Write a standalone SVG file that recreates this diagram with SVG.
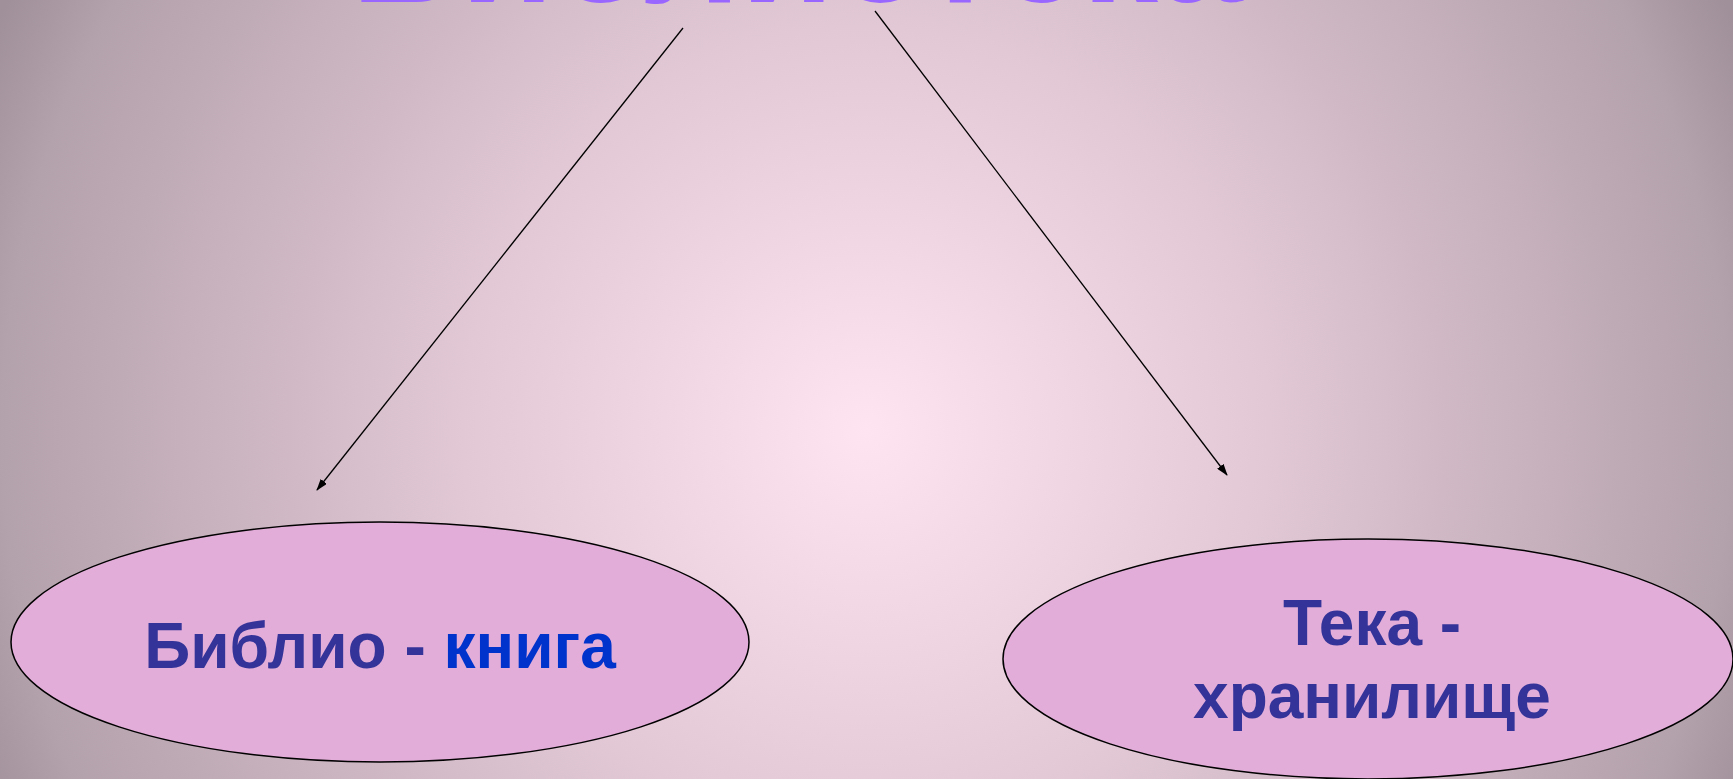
<svg xmlns="http://www.w3.org/2000/svg" width="1733" height="779" viewBox="0 0 1733 779">
  <defs>
    <radialGradient id="bg" gradientUnits="userSpaceOnUse" cx="866" cy="430" r="960">
      <stop offset="0" stop-color="#FDE4F0"/>
      <stop offset="0.42" stop-color="#E2C8D5"/>
      <stop offset="0.9" stop-color="#B3A1AB"/>
      <stop offset="1" stop-color="#A0909A"/>
    </radialGradient>
    <marker id="arrow" viewBox="0 0 12 8" refX="11" refY="4" markerWidth="12" markerHeight="8" markerUnits="userSpaceOnUse" orient="auto">
      <path d="M0,0 L12,4 L0,8 Z" fill="#000"/>
    </marker>
  </defs>
  <style>
    .node ellipse { fill: #E2ADD8; stroke: #000; stroke-width: 1.5; }
    .lbl { font-family: "Liberation Sans", Arial, sans-serif; font-weight: bold; font-size: 64px; text-anchor: middle; fill: #333399; }
    .title { font-family: "Liberation Sans", Arial, sans-serif; font-weight: bold; font-size: 152px; text-anchor: middle; fill: #9966FF; }
    .conn line { stroke: #000; stroke-width: 1.3; marker-end: url(#arrow); }
  </style>
  <rect x="0" y="0" width="1733" height="779" fill="url(#bg)"/>
  <g id="title">
    <text class="title" x="797" y="1.5">Библиотека</text>
  </g>
  <g id="connectors" class="conn">
    <line x1="683" y1="28" x2="317" y2="490"/>
    <line x1="875" y1="11" x2="1227" y2="475"/>
  </g>
  <g id="node-biblio" class="node">
    <ellipse cx="380" cy="642" rx="369" ry="120"/>
    <text class="lbl" x="380" y="668">Библио - <tspan fill="#0033CC">книга</tspan></text>
  </g>
  <g id="node-teka" class="node">
    <ellipse cx="1368" cy="659" rx="365" ry="120"/>
    <text class="lbl" x="1372" y="645">Тека -</text>
    <text class="lbl" x="1372" y="718">хранилище</text>
  </g>
</svg>
